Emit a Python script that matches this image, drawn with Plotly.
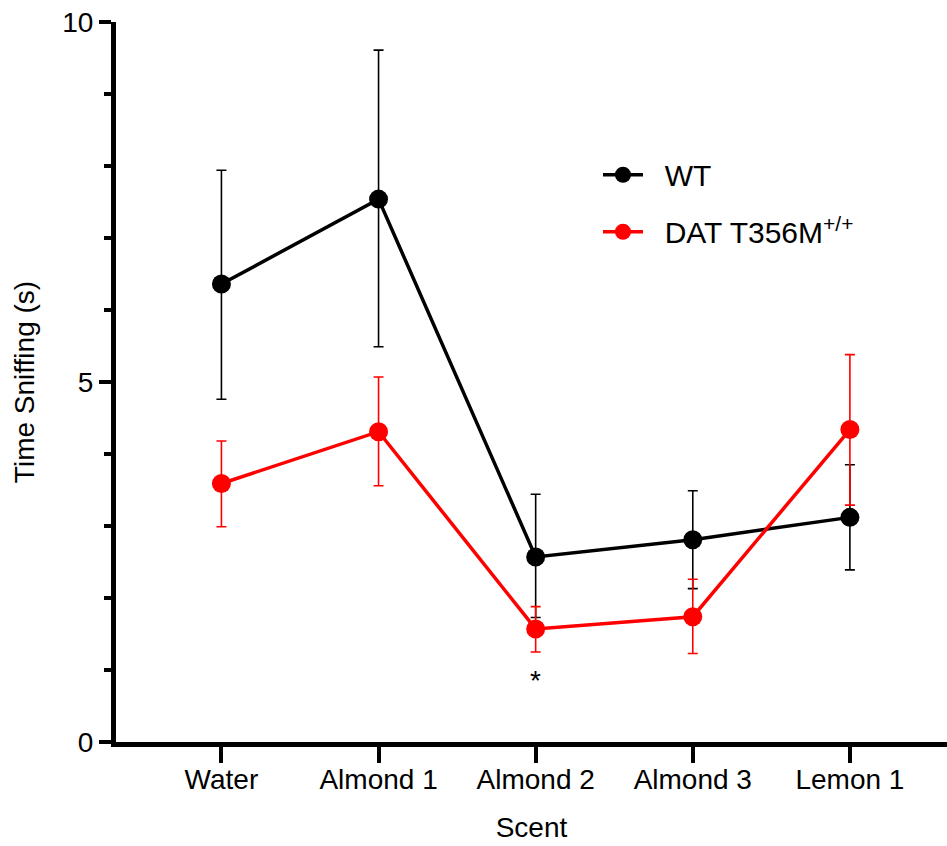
import plotly.graph_objects as go

categories = ["Water", "Almond 1", "Almond 2", "Almond 3", "Lemon 1"]
wt_mean = [6.36, 7.54, 2.57, 2.81, 3.12]
wt_upper = [7.94, 9.61, 3.44, 3.49, 3.85]
wt_lower = [4.76, 5.49, 1.73, 2.13, 2.39]
dat_mean = [3.59, 4.31, 1.57, 1.74, 4.34]
dat_upper = [4.18, 5.07, 1.88, 2.26, 5.38]
dat_lower = [2.99, 3.56, 1.25, 1.23, 3.29]
y_ticks = [0, 5, 10]
sig_label = "*"
sig_category = "Almond 2"
sig_y = 0.85

FONT = "Liberation Sans, Arial, sans-serif"
GAP = "\u00a0\u00a0"

def err(mean, up, lo, color):
    return dict(type="data", symmetric=False,
                array=[u - m for u, m in zip(up, mean)],
                arrayminus=[m - l for m, l in zip(mean, lo)],
                color=color, thickness=1.6, width=5)

xs = list(range(len(categories)))
fig = go.Figure()
fig.add_trace(go.Scatter(
    x=xs, y=wt_mean, mode="lines+markers", name=GAP + "WT", legendgroup="a",
    line=dict(color="black", width=3.5),
    marker=dict(color="black", size=19),
    error_y=err(wt_mean, wt_upper, wt_lower, "black")))
fig.add_trace(go.Scatter(
    x=xs, y=dat_mean, mode="lines+markers", name=GAP + "DAT T356M<sup>+/+</sup>", legendgroup="b",
    line=dict(color="#ff0000", width=3.5),
    marker=dict(color="#ff0000", size=19),
    error_y=err(dat_mean, dat_upper, dat_lower, "#ff0000")))

fig.add_annotation(x=categories.index(sig_category), y=sig_y, text=sig_label, showarrow=False,
                   font=dict(size=28, color="black", family=FONT), yanchor="middle")

fig.update_layout(
    width=947, height=846,
    margin=dict(l=116, r=0, t=22, b=104),
    plot_bgcolor="white", paper_bgcolor="white",
    font=dict(family=FONT, color="black", size=28),
    showlegend=True,
    legend=dict(x=0.58, y=0.824, xanchor="left", yanchor="top",
                font=dict(size=30, family=FONT), tracegroupgap=15,
                itemwidth=40, bgcolor="rgba(0,0,0,0)"),
    xaxis=dict(range=[-0.671, 4.618], tickvals=xs, ticktext=categories,
               showline=True, linecolor="black", linewidth=5,
               ticks="outside", ticklen=16, tickwidth=4, tickcolor="black",
               ticklabelstandoff=-8,
               showgrid=False, zeroline=False,
               tickfont=dict(size=28),
               title=dict(text="Scent", font=dict(size=28), standoff=25)),
    yaxis=dict(range=[0, 10], tickvals=y_ticks,
               showline=True, linecolor="black", linewidth=5,
               ticks="outside", ticklen=12, tickwidth=4, tickcolor="black",
               minor=dict(dtick=1, ticks="outside", ticklen=7, tickwidth=4, tickcolor="black"),
               showgrid=False, zeroline=False,
               tickfont=dict(size=28),
               title=dict(text="Time Sniffing (s)", font=dict(size=28), standoff=21)),
)

fig.write_html("out.html")
